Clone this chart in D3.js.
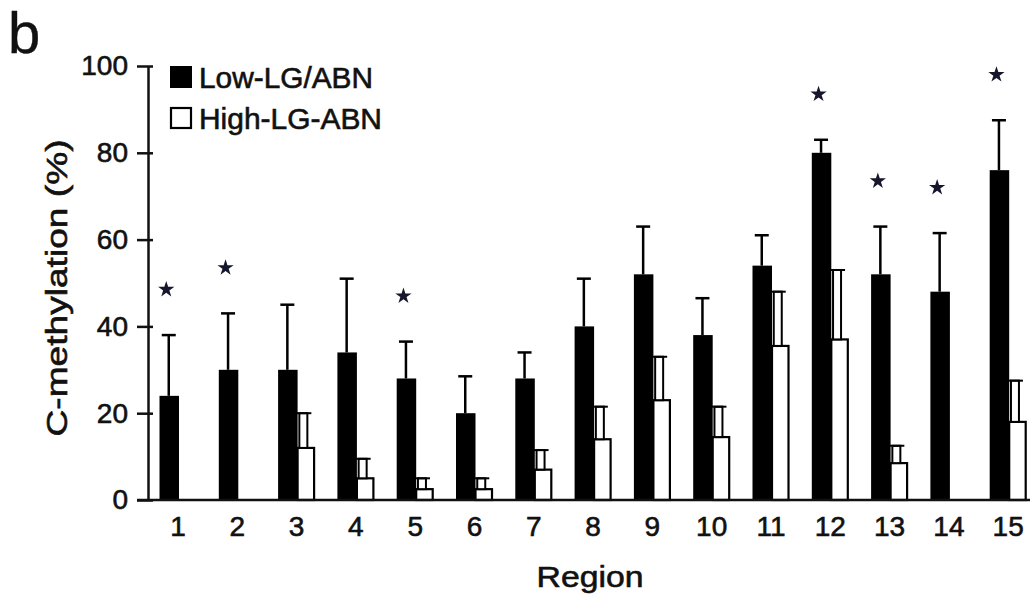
<!DOCTYPE html>
<html>
<head>
<meta charset="utf-8">
<script src="https://cdn.jsdelivr.net/npm/d3@7"></script>
<style>
  body { margin: 0; background: #fff; }
  svg { display: block; font-family: "Liberation Sans", Arial, sans-serif; }
  svg text { stroke: #111; stroke-width: 0.6px; }
</style>
</head>
<body>
<svg id="chart"></svg>
<script>
// data
const regions = ['1','2','3','4','5','6','7','8','9','10','11','12','13','14','15'];
const seriesNames = ['Low-LG/ABN', 'High-LG-ABN'];
const lowMean = [24, 30, 30, 34, 28, 20, 28, 40, 52, 38, 54, 80, 52, 48, 76];
const lowSd   = [14, 13, 15, 17, 8.5, 8.5, 6, 11, 11, 8.5, 7, 3, 11, 13.5, 11.5];
const highMean = [0, 0, 12, 5, 2.5, 2.5, 7, 14, 23, 14.5, 35.5, 37, 8.5, 0, 18];
const highSd   = [0, 0, 8, 4.5, 2.5, 2.5, 4.5, 7.5, 10, 7, 12.5, 16, 4, 0, 9.5];
const significant = [1, 1, 0, 0, 1, 0, 0, 0, 0, 0, 0, 1, 1, 1, 1];
const yTicks = [0, 20, 40, 60, 80, 100];

const width = 1030;
const height = 596;
const ink = '#111';

const svg = d3.select('#chart')
    .attr('width', width)
    .attr('height', height);

// scales
const x = d3.scaleBand()
    .domain(regions)
    .range([159.5, 159.5 + 14 * 59.3 + 37])
    .paddingInner(0.376)
    .paddingOuter(0);

const xs = d3.scaleBand()
    .domain(['low', 'high'])
    .range([0, x.bandwidth()]);

const y = d3.scaleLinear()
    .domain([0, 100])
    .range([500, 66]);

// rows for the bars
const rows = regions.map((r, i) => ({
    region: r,
    low: lowMean[i], lowSd: lowSd[i],
    high: highMean[i], highSd: highSd[i],
    sig: significant[i]
}));

// panel letter
svg.append('text')
    .attr('x', 8)
    .attr('y', 53)
    .attr('font-size', 58)
    .attr('fill', ink)
    .style('stroke-width', '0.4px')
    .text('b');

// black bars
svg.append('g').selectAll('rect')
    .data(rows)
    .join('rect')
    .attr('x', d => x(d.region) + xs('low'))
    .attr('y', d => y(d.low))
    .attr('width', xs.bandwidth() + 1)
    .attr('height', d => y(0) - y(d.low))
    .attr('fill', '#000');

// black error bars
const lowErr = svg.append('g')
    .attr('stroke', '#000')
    .attr('stroke-width', 2.5);
rows.forEach(function(d) {
    let cx = x(d.region) + xs('low') + xs.bandwidth() / 2;
    lowErr.append('line')
        .attr('x1', cx).attr('x2', cx)
        .attr('y1', y(d.low)).attr('y2', y(d.low + d.lowSd));
    lowErr.append('line')
        .attr('x1', cx - 7).attr('x2', cx + 7)
        .attr('y1', y(d.low + d.lowSd)).attr('y2', y(d.low + d.lowSd));
});

// white bars (skip empty ones)
const highRows = rows.filter(d => d.high > 0);
svg.append('g').selectAll('rect')
    .data(highRows)
    .join('rect')
    .attr('x', d => x(d.region) + xs('high') + 1)
    .attr('y', d => y(d.high))
    .attr('width', xs.bandwidth() - 2)
    .attr('height', d => y(0) - y(d.high))
    .attr('fill', '#fff')
    .attr('stroke', '#000')
    .attr('stroke-width', 2.2);

// white error bars: hollow stem plus cap
const highErr = svg.append('g')
    .attr('stroke', '#000')
    .attr('stroke-width', 2);
highRows.forEach(function(d) {
    let cx = x(d.region) + xs('high') + xs.bandwidth() / 2 - 2.5;
    let top = y(d.high + d.highSd);
    highErr.append('rect')
        .attr('x', cx - 4)
        .attr('y', top)
        .attr('width', 8)
        .attr('height', y(d.high) - top)
        .attr('fill', '#fff');
    highErr.append('line')
        .attr('x1', cx - 8).attr('x2', cx + 8)
        .attr('y1', top).attr('y2', top);
});

// significance stars
svg.append('g').selectAll('path')
    .data(rows.filter(d => d.sig))
    .join('path')
    .attr('d', d3.symbol(d3.symbolStar, 82))
    .attr('transform', d => `translate(${x(d.region) + xs('low') + xs.bandwidth() / 2 - 2.5},${y(d.low + d.lowSd + 10.5)})`)
    .attr('fill', '#16162c');

// y axis
const yAxis = svg.append('g')
    .attr('transform', 'translate(148,0)')
    .call(d3.axisLeft(y).tickValues(yTicks).tickSizeOuter(0).tickSizeInner(11).tickPadding(9));
yAxis.select('.domain').attr('stroke', ink).attr('stroke-width', 2.5);
yAxis.selectAll('.tick line')
    .attr('x1', 5)
    .attr('stroke', ink)
    .attr('stroke-width', 2.5);
yAxis.selectAll('.tick text')
    .attr('font-size', 28)
    .attr('font-family', '"Liberation Sans", Arial, sans-serif')
    .attr('fill', ink);

// x baseline, runs off the right edge like the original
svg.append('line')
    .attr('x1', 137).attr('x2', width)
    .attr('y1', y(0)).attr('y2', y(0))
    .attr('stroke', ink)
    .attr('stroke-width', 2.5);

// x tick labels
const xAxis = svg.append('g')
    .attr('transform', `translate(0,${y(0)})`)
    .call(d3.axisBottom(x).tickSize(0).tickPadding(16));
xAxis.select('.domain').remove();
xAxis.selectAll('.tick text')
    .attr('font-size', 28)
    .attr('font-family', '"Liberation Sans", Arial, sans-serif')
    .attr('fill', ink);

// axis titles
svg.append('text')
    .attr('x', 590)
    .attr('y', 587)
    .attr('text-anchor', 'middle')
    .attr('font-size', 30)
    .attr('textLength', 107)
    .attr('lengthAdjust', 'spacingAndGlyphs')
    .attr('fill', ink)
    .text('Region');

svg.append('text')
    .attr('transform', 'translate(67,288) rotate(-90)')
    .attr('text-anchor', 'middle')
    .attr('font-size', 30)
    .attr('textLength', 297)
    .attr('lengthAdjust', 'spacingAndGlyphs')
    .attr('fill', ink)
    .text('C-methylation (%)');

// legend
const legend = svg.append('g');
seriesNames.forEach(function(name, i) {
    let ly = 66 + i * 41;
    legend.append('rect')
        .attr('x', i == 0 ? 170 : 171)
        .attr('y', i == 0 ? ly : ly + 1)
        .attr('width', i == 0 ? 22 : 20)
        .attr('height', i == 0 ? 22 : 20)
        .attr('fill', i == 0 ? '#000' : '#fff')
        .attr('stroke', '#000')
        .attr('stroke-width', i == 0 ? 0 : 2.2);
    legend.append('text')
        .attr('x', 199)
        .attr('y', ly + 22)
        .attr('font-size', 29)
        .attr('textLength', i == 0 ? 174 : 183)
        .attr('lengthAdjust', 'spacingAndGlyphs')
        .attr('fill', ink)
        .text(name);
});
</script>
</body>
</html>
